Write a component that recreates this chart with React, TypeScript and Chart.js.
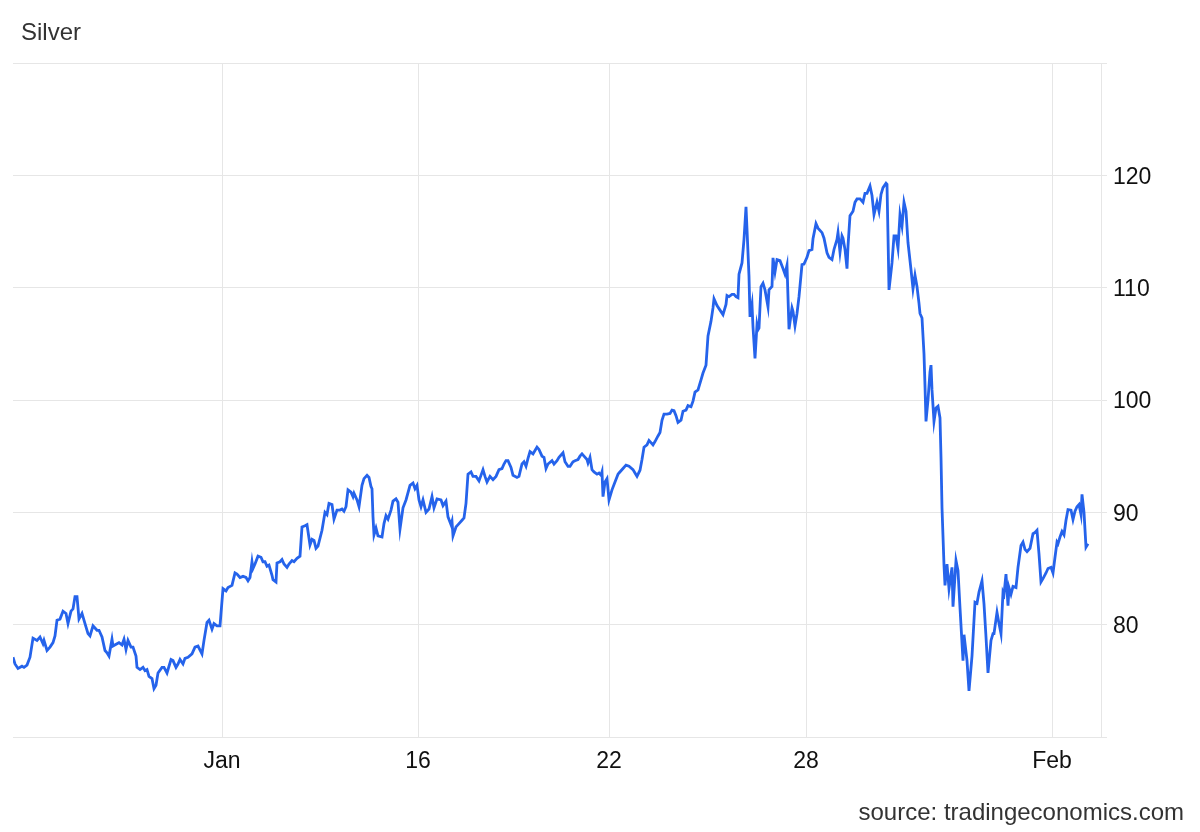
import React, { useEffect, useRef } from "react";
import { Chart, registerables } from "chart.js";

Chart.register(...registerables);

// Silver price, [time index, price]
const silverQuotes: [number, number][] = [
  [0, 77.1], [2, 76.5], [5, 76.1], [9, 76.3], [11, 76.2], [14, 76.4], [17, 77.1], [20, 78.8], [24, 78.6], [27, 78.9],
  [30, 78.3], [31, 78.6], [34, 77.7], [37, 78.0], [40, 78.4], [42, 79.0], [44, 80.4], [47, 80.5], [50, 81.2], [53, 81.0],
  [55, 80.1], [58, 81.2], [60, 81.4], [62, 82.5], [64, 82.5], [66, 80.5], [69, 81.0], [72, 80.1], [75, 79.2], [77, 79.0],
  [80, 79.9], [84, 79.5], [86, 79.5], [89, 78.9], [92, 77.7], [94, 77.5], [96, 77.2], [99, 78.7], [100, 78.1], [104, 78.3],
  [106, 78.4], [109, 78.2], [111, 78.7], [113, 77.8], [115, 78.6], [118, 78.0], [120, 78.0], [123, 77.2], [124, 76.2], [127, 76.0],
  [130, 76.2], [132, 75.9], [134, 76.0], [136, 75.4], [139, 75.2], [141, 74.3], [143, 74.6], [145, 75.7], [149, 76.2], [151, 76.2],
  [154, 75.7], [156, 76.3], [158, 76.9], [160, 76.8], [163, 76.2], [165, 76.5], [167, 76.9], [170, 76.5], [172, 77.0], [175, 77.1],
  [179, 77.4], [182, 78.0], [185, 78.1], [189, 77.4], [191, 78.6], [194, 80.2], [196, 80.4], [199, 79.6], [201, 80.1], [204, 79.9],
  [207, 79.9], [210, 83.2], [213, 83.0], [215, 83.3], [219, 83.5], [222, 84.6], [224, 84.5], [227, 84.2], [230, 84.3], [233, 84.2],
  [235, 83.9], [237, 84.2], [239, 85.6], [240, 85.0], [242, 85.4], [245, 86.1], [248, 86.0], [250, 85.6], [252, 85.6], [254, 85.2],
  [256, 85.3], [259, 84.4], [260, 84.0], [263, 83.8], [264, 85.5], [267, 85.6], [269, 85.8], [271, 85.4], [274, 85.1], [276, 85.4],
  [279, 85.7], [281, 85.6], [284, 85.9], [287, 86.1], [289, 88.7], [292, 88.8], [294, 88.9], [297, 87.1], [299, 87.6], [301, 87.5],
  [303, 86.8], [305, 87.0], [309, 88.4], [312, 90.0], [314, 89.8], [316, 90.8], [319, 90.7], [321, 89.4], [324, 90.2], [327, 90.2],
  [329, 90.3], [331, 90.1], [333, 90.5], [335, 92.0], [338, 91.8], [340, 91.4], [341, 91.7], [344, 91.1], [346, 90.5], [349, 92.4],
  [351, 93.0], [354, 93.3], [356, 93.1], [358, 92.3], [359, 92.1], [360, 89.6], [361, 88.0], [363, 88.6], [365, 87.9], [369, 87.8],
  [371, 89.0], [373, 89.7], [375, 89.4], [378, 90.2], [380, 91.0], [383, 91.2], [385, 90.9], [387, 88.5], [390, 90.4], [393, 91.1],
  [397, 92.4], [400, 92.6], [402, 92.1], [404, 92.4], [406, 91.1], [408, 90.5], [410, 91.1], [413, 90.0], [416, 90.3], [419, 91.4],
  [421, 90.4], [424, 91.2], [428, 91.1], [430, 90.6], [433, 91.0], [435, 89.6], [438, 88.9], [439, 89.2], [440, 87.9], [443, 88.7],
  [446, 89.0], [449, 89.3], [451, 89.5], [453, 90.8], [455, 93.4], [458, 93.6], [460, 93.2], [463, 93.2], [466, 92.8], [470, 93.8],
  [472, 93.2], [474, 92.7], [477, 93.2], [480, 92.9], [483, 93.2], [486, 93.8], [489, 93.9], [491, 94.3], [493, 94.6], [495, 94.6],
  [498, 94.0], [500, 93.3], [504, 93.1], [506, 93.2], [509, 94.3], [511, 94.5], [513, 94.1], [515, 94.8], [517, 95.4], [520, 95.2],
  [522, 95.5], [524, 95.8], [526, 95.6], [529, 95.0], [531, 94.9], [533, 93.9], [535, 94.3], [539, 94.6], [541, 94.3], [544, 94.6],
  [546, 94.9], [550, 95.3], [552, 94.5], [555, 94.1], [557, 94.1], [560, 94.5], [562, 94.6], [565, 94.7], [567, 95.0], [569, 95.2],
  [571, 95.0], [574, 94.7], [575, 94.4], [577, 94.9], [579, 93.8], [581, 93.6], [584, 93.4], [586, 93.5], [588, 93.3], [589, 93.6],
  [590, 91.4], [592, 92.7], [594, 93.0], [596, 91.1], [599, 92.0], [602, 92.7], [605, 93.4], [606, 93.5], [610, 93.9], [613, 94.2],
  [616, 94.1], [620, 93.8], [622, 93.5], [624, 93.2], [627, 93.75], [629, 94.7], [631, 95.8], [634, 96.0], [636, 96.4], [640, 96.0],
  [642, 96.3], [645, 96.8], [647, 97.1], [649, 98.2], [651, 98.75], [654, 98.75], [657, 98.8], [659, 99.1], [661, 99.05], [663, 98.6],
  [665, 98.0], [668, 98.2], [670, 99.0], [673, 99.1], [675, 99.5], [678, 99.4], [680, 99.9], [682, 100.7], [685, 100.9], [688, 101.8],
  [690, 102.4], [693, 103.1], [695, 105.7], [698, 107.0], [700, 108.2], [701, 109.0], [704, 108.4], [707, 108.0], [710, 107.6], [713, 108.5],
  [714, 109.3], [716, 109.2], [719, 109.4], [721, 109.4], [723, 109.2], [725, 109.1], [726, 111.2], [729, 112.2], [731, 114.3], [733, 117.2],
  [734, 115.2], [736, 111.0], [737, 107.4], [739, 108.5], [740, 106.5], [742, 103.7], [744, 106.7], [745, 106.25], [746, 106.4], [748, 110.1],
  [750, 110.4], [752, 109.8], [755, 108.3], [756, 109.8], [759, 110.1], [760, 112.65], [762, 111.4], [764, 112.5], [767, 112.4], [770, 111.7],
  [772, 111.2], [774, 112.0], [776, 106.3], [779, 108.2], [780, 107.9], [782, 106.6], [784, 107.7], [786, 109.2], [789, 112.05], [791, 112.1],
  [794, 112.7], [796, 113.3], [799, 113.4], [800, 114.35], [803, 115.7], [805, 115.3], [809, 114.9], [811, 114.4], [814, 113.1], [816, 112.7],
  [819, 112.5], [821, 113.4], [824, 114.3], [825, 114.9], [827, 113.15], [829, 114.6], [830, 114.4], [832, 113.4], [834, 111.7], [835, 113.7],
  [837, 116.4], [840, 116.8], [842, 117.6], [844, 117.9], [847, 117.9], [850, 117.6], [852, 118.4], [854, 118.4], [857, 119.05], [859, 118.2],
  [861, 116.5], [864, 117.6], [866, 116.8], [868, 118.3], [870, 118.9], [873, 119.3], [874, 119.2], [875, 114.6], [876, 109.8], [879, 112.2],
  [881, 114.6], [883, 114.6], [885, 113.5], [887, 116.5], [889, 115.5], [891, 117.6], [893, 116.8], [895, 114.0], [898, 111.6], [900, 109.9],
  [902, 111.1], [904, 110.1], [906, 108.6], [907, 107.7], [909, 107.3], [911, 104.1], [912, 101.25], [913, 98.1], [915, 100.0], [917, 102.5],
  [918, 103.1], [919, 100.9], [921, 98.1], [923, 99.3], [925, 99.45], [927, 98.4], [928, 94.9], [929, 90.4], [931, 85.3], [932, 83.5],
  [934, 85.4], [936, 83.2], [939, 85.1], [940, 81.6], [943, 85.7], [945, 84.8], [947, 81.5], [950, 76.8], [951, 79.1], [954, 76.8],
  [956, 74.1], [959, 77.2], [962, 82.0], [964, 81.9], [966, 82.9], [969, 83.9], [971, 81.85], [973, 78.9], [975, 75.7], [978, 78.6],
  [980, 79.2], [981, 79.2], [984, 81.1], [986, 80.1], [988, 79.2], [990, 82.9], [991, 82.7], [993, 84.5], [995, 81.7], [996, 83.3],
  [998, 82.7], [1000, 83.4], [1003, 83.3], [1005, 85.1], [1008, 87.05], [1010, 87.35], [1012, 86.7], [1014, 86.5], [1017, 86.8], [1020, 88.1],
  [1022, 88.2], [1024, 88.4], [1026, 86.3], [1028, 83.8], [1030, 84.1], [1033, 84.6], [1035, 85.0], [1038, 85.1], [1040, 84.6], [1042, 86.0],
  [1044, 87.35], [1045, 87.2], [1047, 87.8], [1049, 88.3], [1051, 88.0], [1053, 89.3], [1055, 90.25], [1058, 90.2], [1060, 89.35], [1062, 90.1],
  [1064, 90.5], [1066, 90.7], [1068, 89.8], [1069, 91.6], [1071, 90.0], [1073, 86.9], [1075, 87.2],
];

// x-axis date labels and their time indices
const dateLabels = ["Jan", "16", "22", "28", "Feb"];
const dateIndex = [209, 405, 596, 793, 1039];

// y-axis range
const yMin = 70;
const yMax = 130;
const yStep = 10;
const xMin = 0;
const xMax = 1088;

const FONT = "'Liberation Sans', Arial, Helvetica, sans-serif";
const GRID = "#e6e6e6";

export default function App() {
  const ref = useRef<HTMLCanvasElement | null>(null);

  useEffect(() => {
    if (!ref.current) return;
    const chart = new Chart(ref.current, {
      type: "line",
      data: {
        datasets: [
          {
            label: "Silver",
            data: silverQuotes.map(([x, y]) => ({ x, y })),
            borderColor: "#2563eb",
            borderWidth: 2.8,
            pointRadius: 0,
            tension: 0,
            fill: false,
          },
        ],
      },
      options: {
        responsive: false,
        animation: false,
        devicePixelRatio: 1,
        layout: { padding: { left: 13, top: 63, right: 0, bottom: 0 } },
        plugins: {
          legend: { display: false },
          tooltip: { enabled: false },
          title: { display: false },
        },
        scales: {
          x: {
            type: "linear",
            min: xMin,
            max: xMax,
            afterBuildTicks: (scale: any) => {
              scale.ticks = dateIndex.map((v) => ({ value: v }));
            },
            afterFit: (scale: any) => {
              scale.height = 95;
            },
            ticks: {
              autoSkip: false,
              maxRotation: 0,
              padding: 11,
              color: "#111",
              font: { family: FONT, size: 23 },
              callback: (value: any) => {
                const i = dateIndex.indexOf(Number(value));
                return i >= 0 ? dateLabels[i] : "";
              },
            },
            grid: { color: GRID, drawTicks: false, lineWidth: 1 },
            border: { display: false },
          },
          y: {
            position: "right",
            min: yMin,
            max: yMax,
            afterFit: (scale: any) => {
              scale.width = 99;
            },
            ticks: {
              stepSize: yStep,
              padding: 6,
              labelOffset: 2,
              color: "#111",
              font: { family: FONT, size: 23 },
              callback: (value: any) =>
                Number(value) === yMin || Number(value) === yMax ? "" : String(value),
            },
            grid: { color: GRID, tickLength: 6, lineWidth: 1 },
            border: { display: true, color: GRID },
          },
        },
      },
    });
    return () => chart.destroy();
  }, []);

  return (
    <div style={{ position: "fixed", left: 0, top: 0, width: 1200, height: 832, background: "#fff" }}>
      <canvas ref={ref} width={1200} height={832} style={{ position: "absolute", left: 0, top: 0 }} />
      <div
        style={{
          position: "absolute",
          left: 21,
          top: 20,
          fontFamily: FONT,
          fontSize: 24,
          lineHeight: "24px",
          color: "#333",
          whiteSpace: "nowrap",
        }}
      >
        Silver
      </div>
      <div
        style={{
          position: "absolute",
          right: 16,
          top: 800,
          fontFamily: FONT,
          fontSize: 24,
          lineHeight: "24px",
          color: "#333",
          whiteSpace: "nowrap",
        }}
      >
        source: tradingeconomics.com
      </div>
    </div>
  );
}
